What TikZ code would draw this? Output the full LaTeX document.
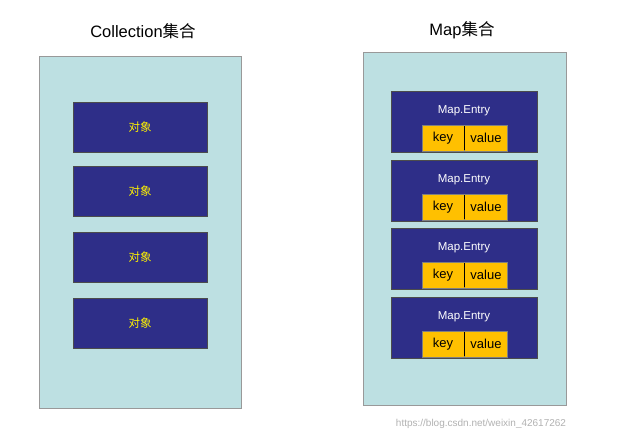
\documentclass[tikz,border=0pt]{standalone}
\usepackage{fontspec}
\setmainfont{Liberation Sans}
\newfontfamily\cjk{Noto Sans CJK SC}
\definecolor{panel}{HTML}{BDE0E2}
\definecolor{navy}{HTML}{2E2E88}
\definecolor{gold}{HTML}{FFC000}
\begin{document}
\begin{tikzpicture}[x=1pt,y=-1pt,
  panelbox/.style={draw=gray!80,fill=panel},
  objbox/.style={draw=black!70,fill=navy},
  cell/.style={draw=gray,fill=gold,inner sep=0pt,font=\fontsize{13}{13}\selectfont}]
\useasboundingbox (0,0) rectangle (626,442);
\fill[white] (0,0) rectangle (626,442);
\node (t1) at (143,31) {\fontsize{16.5}{18}\selectfont Collection{\cjk 集合}};
\node (t2) at (462,30) {\fontsize{16.5}{18}\selectfont Map{\cjk 集合}};
\draw[panelbox] (39,56) rectangle (241,408);
\draw[panelbox] (363,52) rectangle (566,405);
\foreach \y [count=\i] in {102,166,232,298}{
  \draw[objbox] (73,\y) rectangle (207,\y+50);
  \node[text=yellow,font=\cjk\fontsize{11.5}{12}\selectfont] (o\i) at (140,\y+25) {对象};
}
\foreach \y [count=\i] in {91,160,228,297}{
  \draw[objbox] (391,\y) rectangle (537,\y+61);
  \node[text=white,font=\fontsize{11.5}{12}\selectfont] (e\i) at (464,\y+20) {Map.Entry};
  \draw[cell] (422,\y+34) rectangle (464,\y+60);
  \draw[cell] (464,\y+34) rectangle (507,\y+60);
  \draw[black] (464,\y+35) -- (464,\y+59);
  \node[font=\fontsize{13}{13}\selectfont] (k\i) at (443,\y+47) {key};
  \node[font=\fontsize{13}{13}\selectfont] (v\i) at (486,\y+47) {value};
}
\node[text=gray!60,font=\fontsize{10}{10}\selectfont] (wm) at (481,424) {https://blog.csdn.net/weixin\_42617262};
\end{tikzpicture}
\end{document}
